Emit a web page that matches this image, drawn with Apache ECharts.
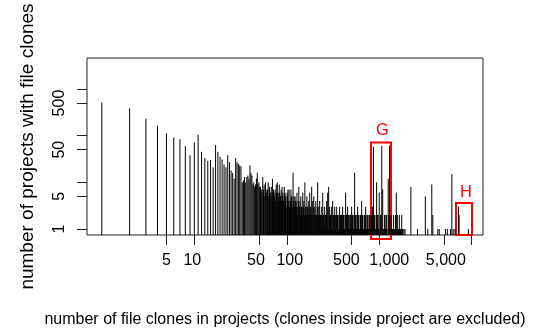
<!DOCTYPE html>
<html>
<head>
<meta charset="utf-8">
<script src="https://cdn.jsdelivr.net/npm/echarts@6/dist/echarts.min.js"></script>
<style>
  html, body { margin: 0; padding: 0; background: #fff; }
  #chart { width: 534px; height: 335px; }
</style>
</head>
<body>
<div id="chart"></div>
<script>
// number of file clones (x) and number of projects having that many clones (y)
const clones = [
  1, 2, 3, 4, 5, 6, 7, 8, 9, 10,
  11, 12, 13, 14, 15, 16, 17, 18, 19, 20,
  21, 22, 23, 24, 25, 26, 27, 28, 29, 30,
  31, 32, 33, 34, 35, 36, 37, 38, 39, 40,
  41, 42, 43, 44, 45, 46, 47, 48, 49,
  50, 51, 52, 53, 55, 56, 57, 59, 60, 62, 63, 65, 66, 68, 70, 72, 73, 75, 77, 79,
  81, 83, 85, 87, 89, 91, 94, 96, 98, 101, 103, 106, 109, 111, 114, 117, 120, 123, 126, 129,
  132, 135, 139, 142, 146, 149, 153, 157, 161, 165, 169, 173, 177, 182, 186, 191, 196, 201, 206, 211,
  216, 222, 227, 233, 239, 245, 251, 257, 264, 270, 277, 284, 291, 299, 306, 314, 322, 330, 338, 347,
  355, 364, 373, 383, 392, 402, 412, 423, 433, 444, 455, 467, 479, 491, 503, 516, 529, 542, 556, 570,
  584, 599, 614, 629, 645, 661, 678, 695, 713, 731, 749, 768, 787, 807, 827, 848, 865, 891, 914, 937,
  960, 984, 1000, 1035, 1065, 1090, 1115, 1143, 1171, 1201, 1250, 1290, 1326, 1360, 1394, 1430, 1470, 1530, 1570, 1610,
  1650, 1700, 1750, 1800, 2200, 2600, 3150, 3350, 3700, 3800, 4300, 4450, 5200, 5450, 5900, 6100, 6300, 6600, 7200, 7300,
  9200
];
const projects = [
  517, 384, 230, 163, 112, 92, 83, 60, 38, 72,
  104, 45, 33, 29, 30, 21, 63, 45, 35, 31,
  24, 21, 38, 27, 18, 16, 12, 33, 27, 25,
  23, 22, 10, 11, 13, 10, 13, 14, 12, 23,
  16, 14, 9, 10, 8, 9, 12, 16, 9,
  10, 8, 8, 7, 13, 7, 9, 10, 6, 7, 10, 8, 6, 8, 12, 7, 6, 7, 9, 10,
  6, 9, 5, 7, 8, 6, 8, 6, 5, 6, 7, 7, 4, 7, 5, 16, 5, 5, 4, 6,
  3, 8, 4, 5, 3, 6, 4, 10, 3, 5, 3, 4, 6, 3, 8, 4, 5, 3, 4, 2,
  10, 3, 4, 2, 3, 6, 2, 3, 2, 4, 6, 8, 3, 2, 3, 4, 2, 3, 2, 3,
  2, 1, 3, 2, 2, 3, 2, 1, 6, 2, 3, 2, 1, 2, 3, 2, 1, 16, 2, 1,
  3, 2, 1, 2, 4, 2, 1, 2, 3, 1, 2, 1, 2, 1, 2, 3, 58, 2, 1, 10,
  2, 1, 6, 2, 60, 7, 1, 2, 1, 2, 12, 61, 1, 2, 1, 2, 1, 6, 2, 1,
  2, 1, 2, 1, 8, 1, 5, 1, 9, 2, 1, 1, 1, 1, 1, 15, 1, 1, 3, 2,
  1
];
// the many low bars that fill the dense middle of the range
const fillClones = [
  54, 58, 61, 64, 67, 69, 71, 74, 76, 78, 80, 82, 84, 86, 88, 90, 92, 95, 97, 100,
  102, 104, 107, 110, 112, 115, 118, 121, 124, 127, 130, 133, 137, 140, 144, 147, 151, 155, 159, 163,
  167, 171, 175, 179, 184, 188, 193, 198, 203, 208, 213, 219, 224, 230, 236, 242, 248, 254, 260, 267,
  273, 280, 287, 295, 302, 310, 318, 326, 334, 342, 351, 360, 369, 378, 387, 397, 407, 417, 428, 438,
  449, 461, 473, 485, 497, 509, 522, 535, 549, 563, 577, 591, 606, 621, 637, 653, 669, 686, 704, 722,
  740, 758, 777, 797, 817, 837, 858, 880, 902, 925, 948, 972, 1020, 1050, 1100, 1130, 1157, 1186, 1216, 1270,
  1310, 1343, 1377, 1412, 1450, 1500, 1550, 1590, 1630, 1675, 1725, 1775, 1850, 1900
];
const fillProjects = [
  6, 5, 7, 5, 6, 5, 6, 5, 4, 6, 5, 4, 6, 5, 4, 5, 4, 5, 4, 3,
  5, 4, 3, 4, 5, 3, 4, 3, 4, 3, 2, 4, 3, 2, 3, 2, 3, 2, 3, 2,
  3, 2, 2, 3, 2, 2, 3, 2, 2, 2, 3, 2, 2, 2, 2, 2, 2, 1, 2, 2,
  2, 1, 2, 2, 2, 1, 2, 2, 1, 2, 2, 2, 1, 2, 2, 1, 2, 2, 1, 2,
  2, 1, 2, 2, 1, 2, 2, 1, 2, 2, 1, 2, 1, 2, 1, 2, 1, 2, 1, 2,
  1, 2, 1, 2, 1, 2, 1, 2, 1, 2, 1, 2, 1, 2, 1, 1, 2, 1, 1, 2,
  1, 2, 1, 1, 1, 2, 1, 1, 1, 1, 1, 1, 1, 1
];

// tick positions and labelled ticks (raw values, drawn on log10 scale)
const xTicks = [5, 10, 50, 100, 500, 1000, 5000, 10000];
const xLabels = [5, 10, 50, 100, 500, 1000, 5000];
const yTicks = [1, 5, 10, 50, 100, 500, 1000];
const yLabels = [1, 5, 50, 500];

const X_MIN = -0.160, X_MAX = 4.122;
const Y_MIN = -0.129, Y_MAX = 3.665;

const chart = echarts.init(document.getElementById('chart'), null, { renderer: 'canvas' });

const font = 'Liberation Sans, Arial, Helvetica, sans-serif';

// the original labels sit a little off their ticks; nudge them the same way
const xLabelRich = {
  s5: {},
  s10: { padding: [0, 4, 0, 0] },
  s50: { padding: [0, 6, 0, 0] },
  s100: { padding: [0, 0, 0, 6] },
  s500: { padding: [0, 10, 0, 0] },
  s1000: { padding: [0, 0, 0, 20] },
  s5000: { padding: [0, 0, 0, 4] }
};
const xFmt = v => {
  const n = Math.round(Math.pow(10, v));
  return '{s' + n + '|' + n.toLocaleString('en-US') + '}';
};
const yFmt = v => Math.round(Math.pow(10, v)).toLocaleString('en-US');

const toPoints = (xs, ys) => xs.map((c, i) => [Math.log10(c), Math.log10(ys[i])]);

const option = {
  animation: false,
  backgroundColor: '#fff',
  textStyle: { fontFamily: font },
  grid: {
    left: 87, right: 51, top: 58, bottom: 100,
    show: true, borderColor: '#222', borderWidth: 1,
    containLabel: false, outerBoundsMode: 'none'
  },
  xAxis: {
    type: 'value',
    min: X_MIN, max: X_MAX,
    name: 'number of file clones in projects (clones inside project are excluded)',
    nameLocation: 'middle',
    nameGap: 77,
    nameTextStyle: { fontSize: 16, color: '#000', fontFamily: font },
    axisLine: { show: false, onZero: false },
    splitLine: { show: false },
    axisTick: {
      show: true, length: 10, inside: false,
      customValues: xTicks.map(Math.log10),
      lineStyle: { color: '#222', width: 1 }
    },
    axisLabel: {
      customValues: xLabels.map(Math.log10),
      formatter: xFmt,
      rich: xLabelRich,
      fontSize: 16, color: '#000', margin: 18, fontFamily: font
    }
  },
  yAxis: {
    type: 'value',
    min: Y_MIN, max: Y_MAX,
    name: 'number of projects with file clones',
    nameLocation: 'middle',
    nameRotate: 90,
    nameGap: 50,
    nameTextStyle: { fontSize: 19, color: '#000', fontFamily: font },
    axisLine: { show: false, onZero: false },
    splitLine: { show: false },
    axisTick: {
      show: true, length: 10, inside: false,
      customValues: yTicks.map(Math.log10),
      lineStyle: { color: '#222', width: 1 }
    },
    axisLabel: {
      customValues: yLabels.map(Math.log10),
      formatter: yFmt,
      rotate: 90,
      fontSize: 16, color: '#000', margin: 19, fontFamily: font
    }
  },
  series: [{
    type: 'custom',
    clip: true,
    data: toPoints(clones, projects).concat(toPoints(fillClones, fillProjects)),
    renderItem: function (params, api) {
      const top = api.coord([api.value(0), api.value(1)]);
      const base = api.coord([api.value(0), Y_MIN]);
      return {
        type: 'line',
        shape: { x1: top[0], y1: top[1], x2: base[0], y2: base[1] },
        style: { stroke: '#000', lineWidth: 1 }
      };
    }
  }],
  graphic: [
    // annotation boxes G and H
    {
      type: 'rect', silent: true,
      shape: { x: 371, y: 142.5, width: 20, height: 96.5 },
      style: { fill: 'none', stroke: '#ff0000', lineWidth: 2 }
    },
    {
      type: 'text', silent: true, x: 382.5, y: 130,
      style: { text: 'G', fill: '#ff0000', fontSize: 16.5, fontFamily: font, align: 'center', verticalAlign: 'middle' }
    },
    {
      type: 'rect', silent: true,
      shape: { x: 456, y: 203, width: 16, height: 32 },
      style: { fill: 'none', stroke: '#ff0000', lineWidth: 2 }
    },
    {
      type: 'text', silent: true, x: 466, y: 192,
      style: { text: 'H', fill: '#ff0000', fontSize: 16.5, fontFamily: font, align: 'center', verticalAlign: 'middle' }
    }
  ]
};

chart.setOption(option);
</script>
</body>
</html>
